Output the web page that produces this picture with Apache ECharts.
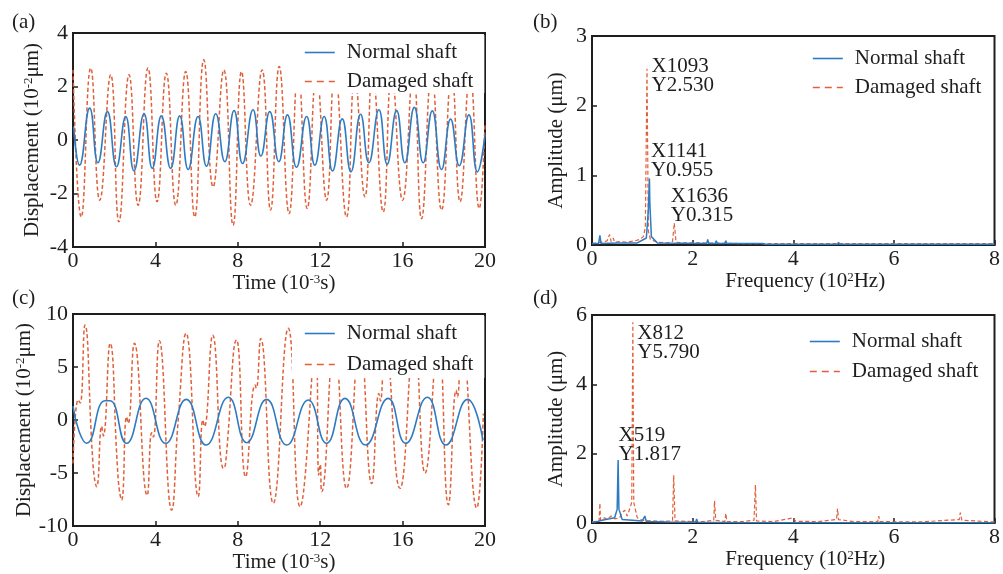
<!DOCTYPE html>
<html><head><meta charset="utf-8">
<script src="https://cdn.jsdelivr.net/npm/echarts@6/dist/echarts.min.js"></script>
<style>html,body{margin:0;padding:0;background:#fff}#c{width:1003px;height:574px}</style>
</head><body><div id="c"></div><script>
// ---------- data ----------
const seriesNames = ['Normal shaft', 'Damaged shaft'];
const panelLabels = ['(a)', '(b)', '(c)', '(d)'];

// (a) time domain, Time (10^-3 s) vs Displacement (10^-2 um)
const aNormal = [[0.03,0.5],[0.32,-0.94],[0.81,1.19],[1.21,-0.85],[1.67,1.06],[2.11,-1.0],[2.56,0.88],[2.96,-1.15],[3.45,0.98],[3.85,-1.06],[4.29,0.9],[4.74,-1.06],[5.18,0.9],[5.59,-1.1],[6.07,0.88],[6.48,-0.98],[6.93,0.98],[7.37,-0.81],[7.82,1.1],[8.23,-0.88],[8.74,1.13],[9.12,-0.6],[9.55,1.06],[9.99,-0.81],[10.41,0.94],[10.85,-1.02],[11.34,0.88],[11.74,-0.94],[12.19,0.88],[12.6,-1.16],[13.07,0.79],[13.49,-1.19],[13.96,0.96],[14.36,-0.85],[14.85,1.13],[15.25,-0.9],[15.71,1.1],[16.11,-0.85],[16.57,1.22],[17.0,-0.85],[17.44,1.09],[17.89,-1.1],[18.33,0.78],[18.75,-0.96],[19.22,0.94],[19.63,-1.19],[20.0,0.19]];
const aDamaged = [[0.0,2.62],[0.4,-2.88],[0.86,2.69],[1.3,-2.25],[1.83,2.44],[2.23,-3.06],[2.72,2.44],[3.16,-2.44],[3.64,2.69],[4.08,-2.31],[4.53,2.5],[4.99,-2.44],[5.47,2.56],[5.91,-2.88],[6.35,3.0],[6.8,-1.75],[7.32,2.62],[7.77,-3.19],[8.18,2.56],[8.62,-2.44],[9.18,2.62],[9.59,-2.62],[10.01,2.75],[10.49,-2.75],[10.93,2.6],[11.37,-2.56],[11.82,2.5],[12.31,-2.25],[12.71,2.6],[13.28,-2.88],[13.68,2.4],[14.17,-2.12],[14.54,2.6],[15.06,-2.69],[15.47,2.5],[16.0,-2.25],[16.52,2.6],[16.92,-2.94],[17.41,2.5],[17.89,-2.62],[18.38,2.5],[18.79,-2.31],[19.27,2.5],[19.72,-2.56],[20.0,0.62]];

// (b) spectrum, Frequency (10^2 Hz) vs Amplitude (um)
const bNormal = [[0,0.02],[0.13,0.02],[0.157,0.14],[0.18,0.02],[0.5,0.03],[0.9,0.03],[1.08,0.1],[1.12,0.5],[1.141,0.955],[1.15,0.6],[1.18,0.12],[1.3,0.03],[2.28,0.02],[2.3,0.08],[2.32,0.02],[2.45,0.02],[2.47,0.06],[2.49,0.02],[2.64,0.02],[2.66,0.06],[2.68,0.02],[3.4,0.02],[3.42,0.04],[3.44,0.01],[4.88,0.01],[4.9,0.04],[4.92,0.01],[8,0.01]];
const bDamaged = [[0,0.02],[0.1,0.03],[0.2,0.04],[0.3,0.06],[0.35,0.15],[0.38,0.05],[0.42,0.1],[0.45,0.04],[0.55,0.05],[0.7,0.04],[0.85,0.06],[0.95,0.08],[1.02,0.12],[1.06,0.25],[1.093,2.53],[1.12,0.2],[1.16,0.08],[1.3,0.04],[1.5,0.03],[1.6,0.05],[1.636,0.315],[1.67,0.04],[1.8,0.03],[2.2,0.03],[3,0.02],[4,0.02],[5,0.02],[6,0.02],[7,0.02],[8,0.02]];

// (c) time domain
const cNormal = [[0.0,1.3],[0.3,-1.1],[0.66,-2.2],[1.55,1.82],[1.8,1.82],[2.6,-2.2],[3.54,2.05],[4.5,-2.2],[5.5,1.95],[6.46,-2.36],[7.54,2.14],[8.43,-2.14],[9.4,1.95],[10.37,-2.36],[11.42,1.89],[12.31,-2.2],[13.2,2.04],[14.2,-2.36],[15.3,2.04],[16.15,-2.2],[17.2,2.14],[18.1,-2.36],[19.15,1.95],[19.9,-1.9]];
const cDamaged = [[0.0,-4.1],[0.25,1.9],[0.35,1.6],[0.58,8.96],[0.98,-4.4],[1.15,-6.3],[1.39,-0.6],[1.47,-1.5],[1.8,7.23],[2.2,-5.7],[2.36,-7.55],[2.6,0.3],[2.68,-0.3],[2.98,7.23],[3.6,-7.1],[3.82,-1.2],[3.9,-1.6],[4.19,7.48],[4.79,-8.5],[5.1,-0.2],[5.49,8.18],[6.08,-7.23],[6.3,0.0],[6.38,-0.6],[6.78,8.0],[7.3,-4.56],[7.4,-4.2],[7.94,7.55],[8.38,-5.35],[8.84,3.3],[8.9,3.0],[9.11,7.7],[9.72,-7.86],[10.45,8.65],[11.02,-8.18],[11.78,7.5],[11.93,-5.2],[12.0,-4.2],[12.07,-6.76],[12.69,7.3],[13.28,-6.45],[13.93,7.6],[14.5,-6.0],[14.85,2.5],[14.92,1.8],[15.15,7.4],[15.87,-6.45],[16.57,7.5],[17.09,-5.0],[17.73,7.6],[18.22,-8.0],[18.6,2.8],[18.66,2.2],[18.87,7.8],[19.6,-8.3],[19.92,0.6]];

// (d) spectrum
const dNormal = [[0,0.02],[0.1,0.04],[0.2,0.08],[0.35,0.12],[0.45,0.15],[0.5,0.4],[0.519,1.817],[0.535,0.4],[0.6,0.1],[0.8,0.08],[1.0,0.06],[1.05,0.2],[1.08,0.04],[1.5,0.03],[2.06,0.02],[2.08,0.12],[2.1,0.02],[3.01,0.01],[3.03,0.05],[3.05,0.01],[4.03,0.01],[4.05,0.05],[4.07,0.01],[6.98,0.01],[7.0,0.05],[7.02,0.01],[8,0.01]];
const dDamaged = [[0,0.03],[0.14,0.05],[0.157,0.57],[0.17,0.08],[0.25,0.15],[0.3,0.1],[0.38,0.2],[0.45,0.12],[0.55,0.15],[0.6,0.3],[0.65,0.37],[0.7,0.2],[0.76,0.45],[0.79,0.6],[0.812,5.79],[0.83,0.6],[0.86,0.4],[0.9,0.15],[1.0,0.08],[1.2,0.06],[1.4,0.05],[1.6,0.06],[1.624,1.38],[1.65,0.06],[2.0,0.04],[2.2,0.04],[2.42,0.08],[2.436,0.64],[2.46,0.08],[2.64,0.04],[2.66,0.28],[2.68,0.04],[3.0,0.04],[3.22,0.08],[3.248,1.1],[3.27,0.06],[3.6,0.04],[3.9,0.12],[4.0,0.15],[4.05,0.05],[4.5,0.04],[4.86,0.1],[4.88,0.42],[4.9,0.1],[5.2,0.04],[5.68,0.04],[5.7,0.2],[5.72,0.04],[6.48,0.03],[6.5,0.08],[6.52,0.03],[7.3,0.1],[7.32,0.3],[7.35,0.08],[8,0.03]];

// peak annotations: panel index, series index (0 normal / 1 damaged), x, y, text
const annPanel = [1, 1, 1, 3, 3];
const annSeries = [1, 0, 1, 1, 0];
const annX = [1.093, 1.141, 1.636, 0.812, 0.519];
const annY = [2.53, 0.955, 0.315, 5.79, 1.817];
const annText = ['X1093\nY2.530', 'X1141\nY0.955', 'X1636\nY0.315', 'X812\nY5.790', 'X519\nY1.817'];

// axis ranges [min, max, interval]
const timeRange = [0, 20, 4];
const freqRange = [0, 8, 2];
const aDispRange = [-4, 4, 2];
const cDispRange = [-10, 10, 5];
const bAmpRange = [0, 3, 1];
const dAmpRange = [0, 6, 2];

// ---------- styling / layout ----------
const annOffsets = [[5, -11], [2, -36], [-3, -36], [5, 2], [1, -34]];
const FONT = '"Liberation Serif","Times New Roman",serif';
const INK = '#1e1e1e';
const BLUE = '#2f7bc2';
const RED = '#e0603a';
const grids = [
  {left: 73, top: 33, width: 412, height: 214},
  {left: 592, top: 36, width: 407, height: 209},
  {left: 73, top: 314, width: 412, height: 212},
  {left: 592, top: 315, width: 407, height: 208}
];
const timeName = '{n|Time (10}{s|-3}{n|s)}';
const freqName = '{n|Frequency (10}{s|2}{n|Hz)}';
const dispName = '{n|Displacement (10}{s|-2}{n|μm)}';
const ampName = 'Amplitude (μm)';
const rich = {n: {fontSize: 21, fontFamily: FONT, color: INK}, s: {fontSize: 13, fontFamily: FONT, color: INK, verticalAlign: 'top'}};

function xAx(gi, r, name, gap, padL) {
  return {type: 'value', gridIndex: gi, min: r[0], max: r[1], interval: r[2],
    name: name, nameLocation: 'middle', nameGap: gap,
    nameTextStyle: {fontFamily: FONT, fontSize: 21, color: INK, rich: rich, padding: [0, 0, 0, padL]},
    axisLine: {onZero: false, lineStyle: {color: INK, width: 2}},
    axisTick: {inside: true, length: 5, lineStyle: {color: INK, width: 1.5}},
    axisLabel: {fontFamily: FONT, fontSize: 22, color: INK, margin: 3},
    splitLine: {show: false}};
}
function yAx(gi, r, name, gap) {
  return {type: 'value', gridIndex: gi, min: r[0], max: r[1], interval: r[2],
    name: name, nameLocation: 'middle', nameGap: gap, nameRotate: 90,
    nameTextStyle: {fontFamily: FONT, fontSize: 21, color: INK, rich: rich},
    axisLine: {onZero: false, lineStyle: {color: INK, width: 2}},
    axisTick: {inside: true, length: 5, lineStyle: {color: INK, width: 1.5}},
    axisLabel: {fontFamily: FONT, fontSize: 22, color: INK, margin: 5},
    splitLine: {show: false}};
}
function legendAt(left, top, gap, padding) {
  return {orient: 'vertical', left: left, top: top, itemGap: gap, itemWidth: 30, itemHeight: 14,
    backgroundColor: '#fff', padding: padding, z: 10,
    itemStyle: {opacity: 0, borderWidth: 0},
    textStyle: {fontFamily: FONT, fontSize: 21, color: INK, padding: [0, 0, 0, 7]},
    data: [{name: seriesNames[0], lineStyle: {width: 1.6}}, {name: seriesNames[1], lineStyle: {type: [7, 5], width: 1.6}}]};
}

const dataSets = [[aNormal, aDamaged], [bNormal, bDamaged], [cNormal, cDamaged], [dNormal, dDamaged]];
const isTime = [true, false, true, false];
const series = [];
dataSets.forEach((pair, gi) => {
  pair.forEach((d, si) => {
    const s = {
      type: 'line', name: seriesNames[si], xAxisIndex: gi, yAxisIndex: gi, data: d,
      symbol: 'none', smooth: isTime[gi] ? 0.5 : false,
      color: si === 0 ? BLUE : RED,
      lineStyle: si === 0 ? {color: BLUE, width: isTime[gi] ? 1.6 : 1.5} : {color: RED, width: isTime[gi] ? 1.5 : 1.2, type: [4, 2.5]},
      z: si === 0 ? 3 : 2, animation: false
    };
    const idx = [];
    annText.forEach((t, k) => { if (annPanel[k] === gi && annSeries[k] === si) idx.push(k); });
    if (idx.length) {
      s.markPoint = {symbol: 'circle', symbolSize: 1, itemStyle: {color: 'rgba(0,0,0,0)'}, animation: false,
        data: idx.map(k => ({coord: [annX[k], annY[k]],
          label: {show: true, formatter: annText[k], position: annOffsets[k], align: 'left', verticalAlign: 'top',
            fontFamily: FONT, fontSize: 21, lineHeight: 19, color: INK}}))};
    }
    series.push(s);
  });
});

const chart = echarts.init(document.getElementById('c'), null, {renderer: 'canvas'});
chart.setOption({
  animation: false,
  backgroundColor: '#fff',
  grid: grids.map(g => Object.assign({show: true, borderColor: INK, borderWidth: 2, backgroundColor: 'transparent'}, g)),
  xAxis: [xAx(0, timeRange, timeName, 24, 10), xAx(1, freqRange, freqName, 22, 24), xAx(2, timeRange, timeName, 25, 10), xAx(3, freqRange, freqName, 23, 24)],
  yAxis: [yAx(0, aDispRange, dispName, 30), yAx(1, bAmpRange, ampName, 25), yAx(2, cDispRange, dispName, 35), yAx(3, dAmpRange, ampName, 25)],
  legend: [legendAt(292, 35, 8, [7, 11, 1, 12]), legendAt(800, 43, 8, [5, 8, 2, 12]), legendAt(292, 316, 10, [7, 11, 3, 12]), legendAt(797, 326, 9, [5, 8, 2, 12])],
  graphic: [
    {type: 'text', left: 12, top: 12, style: {text: panelLabels[0], font: '21px ' + FONT, fill: INK}},
    {type: 'text', left: 533, top: 12, style: {text: panelLabels[1], font: '21px ' + FONT, fill: INK}},
    {type: 'text', left: 12, top: 288, style: {text: panelLabels[2], font: '21px ' + FONT, fill: INK}},
    {type: 'text', left: 533, top: 288, style: {text: panelLabels[3], font: '21px ' + FONT, fill: INK}}
  ],
  series: series
});
</script></body></html>
